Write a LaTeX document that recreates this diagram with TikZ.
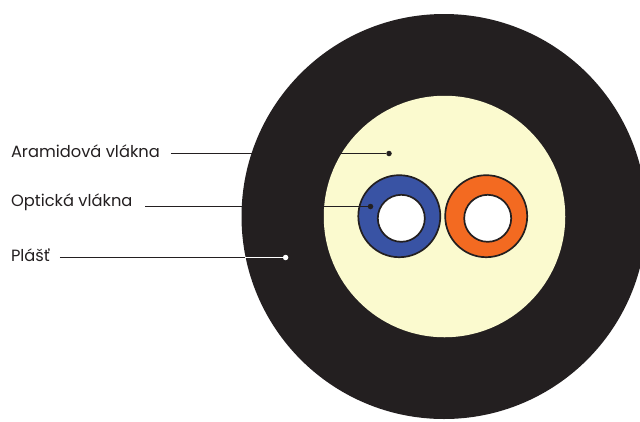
\documentclass[tikz,border=0pt]{standalone}
\usepackage{fontspec}
\setmainfont{Poppins}
\usetikzlibrary{positioning,calc}
\definecolor{plastC}{HTML}{231F20}
\definecolor{aramidC}{HTML}{FBFACF}
\definecolor{modraC}{HTML}{3953A4}
\definecolor{oranzC}{HTML}{F36A21}
\tikzset{
  vrstva/.style={circle, inner sep=0pt, fill=#1, draw=plastC, line width=1.7pt},
  jadro/.style={circle, inner sep=0pt, fill=white, draw=plastC, line width=1.7pt, minimum size=47pt},
  popis/.style={anchor=west, inner sep=0pt, outer sep=0pt, text=plastC, font=\fontsize{16.3}{18}\selectfont},
  tecka/.style={circle, inner sep=0pt, fill=#1, minimum size=5.5pt},
  vodic/.style={line width=1pt, draw=#1},
}
\begin{document}
\begin{tikzpicture}[x=1pt,y=-1pt]
    \clip (0,0) rectangle (640,421);
    \node[vrstva=plastC, draw=none, minimum size=405pt] (plast) at (444,216.5) {};
    \node[vrstva=aramidC, draw=none, minimum size=241.5pt] (aramid) at (444.5,216.5) {};
    \node[vrstva=modraC, minimum size=82pt] (v1) at (399.3,216.2) {};
    \node[vrstva=oranzC, minimum size=82pt] (v2) at (486.2,216.2) {};
    \node[jadro] (j1) at (401.3,218.3) {};
    \node[jadro] (j2) at (487.7,218.3) {};
    % popisky
    \node[popis] (p1) at (11,151.5) {Aramidová vlákna};
    \node[popis] (p2) at (11,202.5) {Optická vlákna};
    \node[popis] (p3) at (11,255) {Plášť};
    \node[tecka=plastC] (t1) at (389,153.5) {};
    \node[tecka=plastC] (t2) at (370.5,206.5) {};
    \node[tecka=white] (t3) at (285.6,257.5) {};
    \coordinate (z1) at ($(p1.east |- t1)+(11,0)$);
    \coordinate (z2) at ($(p2.east |- t2)+(13,0)$);
    \coordinate (z3) at ($(p3.east |- t3)+(10,0)$);
    \coordinate (o3) at (245,257.5);
    \draw[vodic=plastC] (z1) -- (t1);
    \draw[vodic=plastC] (z2) -- (t2);
    \draw[vodic=plastC] (z3) -- (o3); \draw[vodic=white] (o3) -- (t3);
  \end{tikzpicture}
\end{document}
